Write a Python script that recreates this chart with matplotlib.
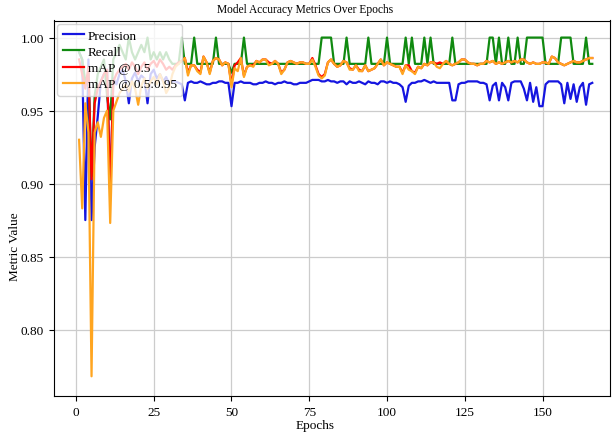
import matplotlib
matplotlib.use("Agg")
import matplotlib.pyplot as plt

plt.rcParams['font.family'] = ['Liberation Serif', 'DejaVu Serif']

epochs = list(range(1, 167))

precision = [
    0.990, 0.985, 0.875, 0.985, 0.875, 0.925, 0.946, 0.970, 0.975, 0.978,
    0.893, 0.972, 0.968, 0.975, 0.978, 0.970, 0.955, 0.972, 0.976, 0.970,
    0.974, 0.972, 0.955, 0.975, 0.978, 0.972, 0.975, 0.970, 0.973, 0.968,
    0.970, 0.970, 0.969, 0.968, 0.957, 0.969, 0.970, 0.969, 0.969, 0.970,
    0.969, 0.968, 0.968, 0.969, 0.969, 0.970, 0.970, 0.969, 0.969, 0.953,
    0.969, 0.969, 0.970, 0.969, 0.969, 0.969, 0.968, 0.968, 0.969, 0.969,
    0.970, 0.969, 0.969, 0.968, 0.969, 0.969, 0.970, 0.969, 0.969, 0.968,
    0.968, 0.969, 0.969, 0.969, 0.970, 0.971, 0.971, 0.971, 0.970, 0.970,
    0.971, 0.970, 0.970, 0.969, 0.970, 0.970, 0.968, 0.970, 0.969, 0.969,
    0.970, 0.969, 0.968, 0.970, 0.969, 0.969, 0.968, 0.970, 0.970, 0.969,
    0.970, 0.969, 0.969, 0.968, 0.966, 0.956, 0.967, 0.969, 0.969, 0.970,
    0.970, 0.971, 0.970, 0.969, 0.970, 0.969, 0.969, 0.969, 0.969, 0.969,
    0.957, 0.957, 0.968, 0.969, 0.969, 0.970, 0.970, 0.970, 0.970, 0.969,
    0.969, 0.968, 0.957, 0.967, 0.969, 0.957, 0.969, 0.966, 0.957, 0.969,
    0.970, 0.970, 0.970, 0.965, 0.957, 0.969, 0.956, 0.966, 0.953, 0.953,
    0.968, 0.970, 0.970, 0.970, 0.970, 0.968, 0.955, 0.969, 0.958, 0.968,
    0.956, 0.966, 0.969, 0.954, 0.968, 0.969,
]

recall = [
    0.990, 0.985, 0.970, 0.975, 0.905, 0.960, 0.975, 0.980, 0.985, 0.960,
    0.944, 0.985, 0.990, 0.995, 0.990, 0.985, 1.000, 0.990, 0.985, 0.990,
    0.995, 0.990, 1.000, 0.985, 0.990, 0.985, 0.990, 0.985, 0.990, 0.985,
    0.982, 0.982, 0.982, 1.000, 0.982, 0.982, 0.982, 1.000, 0.982, 0.982,
    0.982, 0.982, 0.982, 0.982, 1.000, 0.982, 0.982, 0.982, 0.982, 0.976,
    0.982, 0.982, 0.982, 1.000, 0.982, 0.982, 0.982, 0.982, 0.982, 0.982,
    0.982, 0.982, 0.982, 0.982, 0.982, 0.982, 0.982, 0.982, 0.982, 0.982,
    0.982, 0.982, 0.982, 0.982, 0.982, 0.982, 0.982, 0.982, 1.000, 1.000,
    1.000, 1.000, 0.982, 0.982, 0.982, 0.982, 1.000, 0.982, 0.982, 0.982,
    0.982, 0.982, 0.982, 1.000, 0.982, 0.982, 0.982, 0.982, 0.982, 1.000,
    0.982, 0.982, 0.982, 0.982, 0.982, 1.000, 0.982, 1.000, 0.982, 0.982,
    0.982, 1.000, 0.982, 1.000, 0.982, 0.982, 0.982, 0.982, 0.982, 0.982,
    1.000, 0.982, 0.982, 0.982, 0.982, 0.982, 0.982, 0.982, 0.982, 0.982,
    0.982, 0.982, 1.000, 1.000, 0.982, 1.000, 0.982, 0.982, 1.000, 0.982,
    0.982, 1.000, 0.982, 0.982, 1.000, 1.000, 1.000, 1.000, 1.000, 1.000,
    0.982, 0.982, 0.982, 0.982, 0.982, 1.000, 1.000, 1.000, 1.000, 0.982,
    0.982, 0.982, 0.982, 1.000, 0.982, 0.982,
]

map50 = [
    0.985, 0.975, 0.965, 0.980, 0.903, 0.955, 0.965, 0.970, 0.975, 0.978,
    0.893, 0.970, 0.975, 0.978, 0.980, 0.982, 0.978, 0.983, 0.980, 0.975,
    0.980, 0.983, 0.978, 0.982, 0.984, 0.980, 0.985, 0.982, 0.978, 0.980,
    0.978, 0.981, 0.983, 0.984, 0.986, 0.976, 0.981, 0.981, 0.978, 0.976,
    0.987, 0.983, 0.976, 0.984, 0.986, 0.985, 0.981, 0.983, 0.982, 0.968,
    0.981, 0.983, 0.986, 0.974, 0.980, 0.981, 0.981, 0.984, 0.983, 0.985,
    0.985, 0.983, 0.982, 0.984, 0.982, 0.976, 0.978, 0.983, 0.984, 0.983,
    0.982, 0.983, 0.983, 0.982, 0.982, 0.986, 0.981, 0.975, 0.973, 0.975,
    0.983, 0.985, 0.982, 0.980, 0.981, 0.984, 0.983, 0.979, 0.978, 0.981,
    0.978, 0.977, 0.981, 0.977, 0.978, 0.979, 0.982, 0.985, 0.981, 0.983,
    0.982, 0.981, 0.980, 0.980, 0.976, 0.981, 0.981, 0.977, 0.976, 0.980,
    0.979, 0.982, 0.981, 0.983, 0.983, 0.982, 0.983, 0.982, 0.984, 0.982,
    0.981, 0.982, 0.983, 0.985, 0.985, 0.983, 0.982, 0.982, 0.981, 0.982,
    0.982, 0.984, 0.983, 0.984, 0.982, 0.983, 0.982, 0.983, 0.984, 0.983,
    0.984, 0.983, 0.985, 0.985, 0.983, 0.982, 0.983, 0.982, 0.982, 0.983,
    0.983, 0.982, 0.987, 0.986, 0.983, 0.982, 0.981, 0.982, 0.983, 0.984,
    0.983, 0.983, 0.984, 0.985, 0.986, 0.986,
]

map50_95 = [
    0.930, 0.883, 0.955, 0.935, 0.768, 0.935, 0.942, 0.932, 0.945, 0.950,
    0.873, 0.950, 0.956, 0.962, 0.965, 0.968, 0.963, 0.970, 0.965, 0.954,
    0.967, 0.972, 0.965, 0.970, 0.973, 0.968, 0.975, 0.970, 0.962, 0.966,
    0.975, 0.980, 0.982, 0.984, 0.986, 0.974, 0.981, 0.981, 0.977, 0.975,
    0.987, 0.983, 0.975, 0.984, 0.986, 0.985, 0.981, 0.983, 0.982, 0.966,
    0.979, 0.977, 0.986, 0.973, 0.980, 0.981, 0.980, 0.984, 0.983, 0.985,
    0.985, 0.981, 0.982, 0.984, 0.982, 0.975, 0.978, 0.983, 0.984, 0.983,
    0.982, 0.983, 0.983, 0.982, 0.982, 0.985, 0.980, 0.974, 0.972, 0.974,
    0.983, 0.985, 0.982, 0.980, 0.981, 0.984, 0.983, 0.978, 0.978, 0.981,
    0.977, 0.977, 0.981, 0.977, 0.978, 0.979, 0.982, 0.985, 0.981, 0.983,
    0.982, 0.981, 0.980, 0.980, 0.975, 0.981, 0.978, 0.977, 0.975, 0.980,
    0.979, 0.982, 0.981, 0.983, 0.983, 0.980, 0.979, 0.982, 0.984, 0.982,
    0.981, 0.982, 0.983, 0.985, 0.985, 0.983, 0.982, 0.982, 0.981, 0.982,
    0.982, 0.984, 0.983, 0.984, 0.982, 0.983, 0.982, 0.983, 0.984, 0.983,
    0.984, 0.983, 0.985, 0.985, 0.983, 0.982, 0.983, 0.982, 0.982, 0.983,
    0.983, 0.982, 0.987, 0.986, 0.983, 0.982, 0.981, 0.982, 0.983, 0.984,
    0.983, 0.983, 0.984, 0.985, 0.986, 0.986,
]

fig = plt.figure(figsize=(6.14, 4.35), dpi=100)
ax = fig.add_axes([53.5 / 614, 1 - 397 / 435, (610 - 53.5) / 614, (397 - 21.5) / 435])

ax.plot(epochs, precision, color='#1515e0', lw=1.6, label='Precision')
ax.plot(epochs, recall, color='#108a10', lw=1.6, label='Recall')
ax.plot(epochs, map50, color='red', lw=1.6, label='mAP @ 0.5')
ax.plot(epochs, map50_95, color='#ffa520', lw=1.6, label='mAP @ 0.5:0.95')

ax.set_xlim(-7.23, 171.7)
ax.set_ylim(0.7545, 1.0117)
ax.set_xticks([0, 25, 50, 75, 100, 125, 150])
ax.set_yticks([0.80, 0.85, 0.90, 0.95, 1.00])
ax.tick_params(labelsize=9.5)
ax.grid(True, color='#cccccc', lw=0.9)
ax.legend(loc='upper left', fontsize=9.5, borderaxespad=0.27, labelspacing=0.3,
          handlelength=1.6, handletextpad=0.3, borderpad=0.42)

# axis labels and title sit where the reference has them, not centred on the axes
fig.text(315 / 614, 1 - 426 / 435, "Epochs", ha='center', va='center', fontsize=9.5)
fig.text(15 / 614, 1 - 247 / 435, "Metric Value", ha='center', va='center', rotation=90, fontsize=9.5)
fig.text(305 / 614, 1 - 10 / 435, "Model Accuracy Metrics Over Epochs", ha='center', va='center', fontsize=8.3)

fig.savefig("out.png", dpi=100)
